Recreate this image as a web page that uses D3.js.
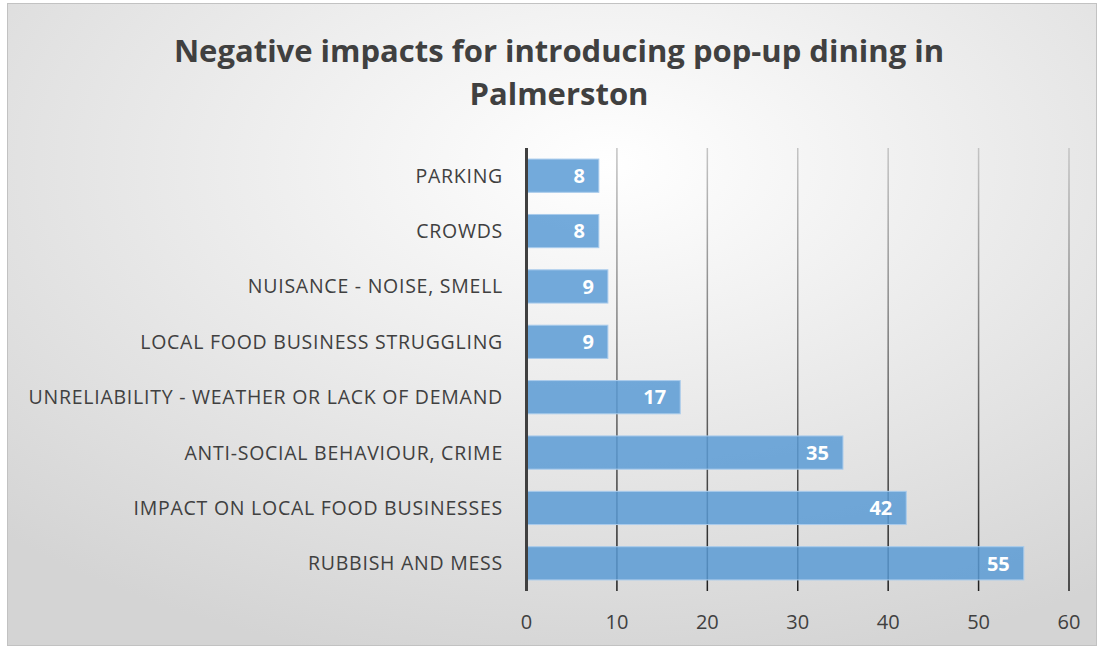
<!DOCTYPE html>
<html lang="en">
<head>
<meta charset="utf-8">
<script src="https://d3js.org/d3.v7.min.js"></script>
<style>
  body { margin: 0; background: #fff; }
  text { font-family: "Open Sans", sans-serif; }
</style>
</head>
<body>
<script>
var categories = ["PARKING", "CROWDS", "NUISANCE - NOISE, SMELL", "LOCAL FOOD BUSINESS STRUGGLING",
  "UNRELIABILITY - WEATHER OR LACK OF DEMAND", "ANTI-SOCIAL BEHAVIOUR, CRIME",
  "IMPACT ON LOCAL FOOD BUSINESSES", "RUBBISH AND MESS"];
var values = [8, 8, 9, 9, 17, 35, 42, 55];
var ticks = [0, 10, 20, 30, 40, 50, 60];
var titleLines = ["Negative impacts for introducing pop-up dining in", "Palmerston"];

var W = 1099, H = 649;
var svg = d3.select("body").append("svg")
    .attr("width", W)
    .attr("height", H);

var defs = svg.append("defs");
var bg = defs.append("radialGradient")
    .attr("id", "bg")
    .attr("cx", "55%").attr("cy", "25%").attr("r", "80%");
bg.append("stop").attr("offset", "0%").attr("stop-color", "#ffffff");
bg.append("stop").attr("offset", "100%").attr("stop-color", "#d4d4d4");

var plotTop = 148, plotBottom = 591;
var gg = defs.append("linearGradient")
    .attr("id", "grid")
    .attr("gradientUnits", "userSpaceOnUse")
    .attr("x1", 0).attr("y1", plotTop).attr("x2", 0).attr("y2", plotBottom);
gg.append("stop").attr("offset", "0%").attr("stop-color", "#c4c4c4");
gg.append("stop").attr("offset", "100%").attr("stop-color", "#1e1e1e");

svg.append("rect")
    .attr("x", 7.5).attr("y", 3.5)
    .attr("width", 1089).attr("height", 642)
    .attr("fill", "url(#bg)")
    .attr("stroke", "#c2c2c2");

svg.append("g").selectAll("text")
    .data(titleLines)
    .enter().append("text")
    .attr("x", 559)
    .attr("y", function(d, i) { return 62 + i * 43; })
    .attr("text-anchor", "middle")
    .attr("font-size", 31)
    .attr("font-weight", "bold")
    .attr("fill", "#404040")
    .text(function(d) { return d; });

var x = d3.scaleLinear().domain([0, 60]).range([526.5, 1069]);
var y = d3.scaleBand().domain(categories).range([plotTop, plotBottom]).paddingInner(0.4).paddingOuter(0.2);

// gridlines
svg.append("g").selectAll("line")
    .data(ticks.slice(1))
    .enter().append("line")
    .attr("x1", function(d) { return x(d); })
    .attr("x2", function(d) { return x(d); })
    .attr("y1", plotTop)
    .attr("y2", plotBottom)
    .attr("stroke", "url(#grid)")
    .attr("stroke-width", 1.5);

// bars
svg.append("g").selectAll("rect")
    .data(values)
    .enter().append("rect")
    .attr("x", x(0))
    .attr("y", function(d, i) { return y(categories[i]); })
    .attr("width", function(d) { return x(d) - x(0); })
    .attr("height", y.bandwidth())
    .attr("fill", "#5b9bd5")
    .attr("fill-opacity", 0.85)
    .attr("stroke", "#a9cbec")
    .attr("stroke-width", 1);

// value labels
svg.append("g").selectAll("text")
    .data(values)
    .enter().append("text")
    .attr("x", function(d) { return x(d) - 14; })
    .attr("y", function(d, i) { return y(categories[i]) + y.bandwidth() / 2; })
    .attr("dy", "0.36em")
    .attr("text-anchor", "end")
    .attr("font-size", 20)
    .attr("font-weight", "bold")
    .attr("fill", "#ffffff")
    .text(function(d) { return d; });

// axis line at zero
svg.append("line")
    .attr("x1", x(0)).attr("x2", x(0))
    .attr("y1", plotTop).attr("y2", plotBottom)
    .attr("stroke", "#404040")
    .attr("stroke-width", 3);

// category labels
svg.append("g").selectAll("text")
    .data(categories)
    .enter().append("text")
    .attr("x", 503)
    .attr("y", function(d) { return y(d) + y.bandwidth() / 2; })
    .attr("dy", "0.36em")
    .attr("text-anchor", "end")
    .attr("font-size", 19.5)
    .attr("letter-spacing", 0.75)
    .attr("fill", "#404040")
    .text(function(d) { return d; });

// tick labels
svg.append("g").selectAll("text")
    .data(ticks)
    .enter().append("text")
    .attr("x", function(d) { return x(d); })
    .attr("y", 622)
    .attr("dy", "0.36em")
    .attr("text-anchor", "middle")
    .attr("font-size", 20)
    .attr("fill", "#404040")
    .text(function(d) { return d; });
</script>
</body>
</html>
